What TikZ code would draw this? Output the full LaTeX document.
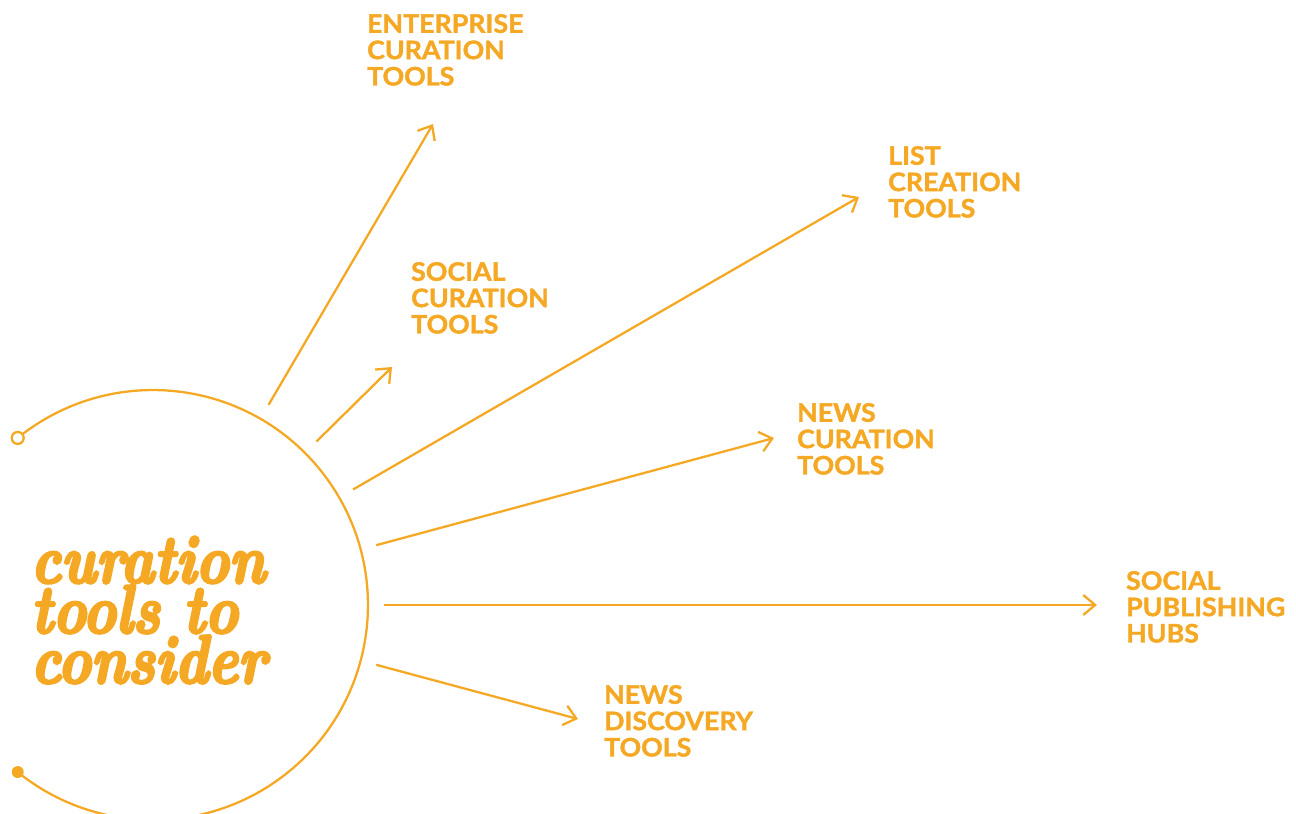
\documentclass[tikz,border=0pt]{standalone}
\usepackage{fontspec}
\setmainfont{Lato}[BoldFeatures={FakeBold=1.5,FakeStretch=1.05}]
\newfontfamily\handfont{Latin Modern Roman}[BoldItalicFeatures={FakeBold=4,FakeStretch=0.82}]
\usepackage{xcolor}
\definecolor{curorange}{RGB}{245,168,35}
\usetikzlibrary{arrows.meta}

\begin{document}
\begin{tikzpicture}[x=0.02cm,y=-0.02cm,-{Straight Barb[length=2.4mm,width=4mm]},line width=1.3pt,color=curorange]
    \tikzstyle{tool}=[anchor=north west,inner sep=0pt,align=left,font=\bfseries\fontsize{14.5}{15}\selectfont];
    \tikzstyle{tip}=[circle,inner sep=0pt,minimum size=0.24cm,line width=1.3pt];
    \useasboundingbox (0,0) rectangle (1296,814);

    \node[circle,inner sep=0pt,minimum size=9.2cm] at (153, 605) (hub) {};
    \node[anchor=base west,inner sep=0pt,align=left,font=\handfont\bfseries\itshape\fontsize{39}{28.5}\selectfont] at (30, 683) (title) {curation\\tools to\\consider};

    \draw[-] ([shift={(129:4.3cm)}]hub.center) coordinate (open)
        arc[start angle=129,end angle=-129,radius=4.3cm] coordinate (shut);
    \node[tip,draw,fill=white] at (open) (opendot) {};
    \node[tip,fill] at (shut) (shutdot) {};

    \node[tool] at (366, 13)  (ent)  {ENTERPRISE\\CURATION\\TOOLS};
    \node[tool] at (410, 261) (soc)  {SOCIAL\\CURATION\\TOOLS};
    \node[tool] at (887, 145) (list) {LIST\\CREATION\\TOOLS};
    \node[tool] at (796, 402) (news) {NEWS\\CURATION\\TOOLS};
    \node[tool] at (1125, 570) (pub) {SOCIAL\\PUBLISHING\\HUBS};
    \node[tool] at (603, 684) (disc) {NEWS\\DISCOVERY\\TOOLS};

    \coordinate (t1) at (433, 124);
    \coordinate (t2) at (392, 367);
    \coordinate (t3) at (859, 197);
    \coordinate (t4) at (774, 438);
    \coordinate (t5) at (1097, 605);
    \coordinate (t6) at (578, 719);

    \draw (hub.60) to (t1);
    \draw (hub.45) to (t2);
    \draw (hub.30) to (t3);
    \draw (hub.15) to (t4);
    \draw (hub.0) to (t5);
    \draw (hub.-15) to (t6);
\end{tikzpicture}
\end{document}
